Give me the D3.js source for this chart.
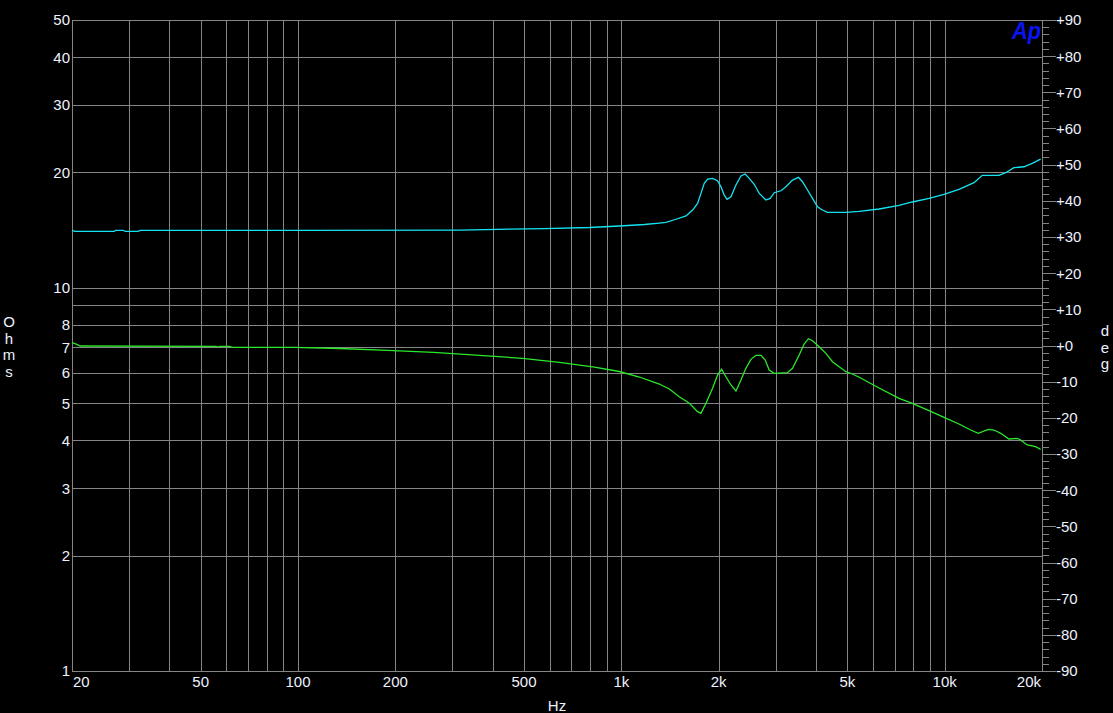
<!DOCTYPE html>
<html><head><meta charset="utf-8">
<script src="https://cdn.jsdelivr.net/npm/d3@7"></script>
<style>
html,body{margin:0;padding:0;background:#000;}
svg{display:block;}
text{font-family:"Liberation Sans Narrow","Arial Narrow","Liberation Sans",Arial,sans-serif;}
</style></head>
<body>
<svg id="chart" width="1113" height="713"></svg>
<script>
// ---- Data ----
const zFreq = [20,20.4,27,27.3,28.8,29.2,32,32.5,100,316,578,797,986,1178,1311,1375,1476,1585,
  1661,1721,1763,1805,1848,1915,1984,2033,2081,2122,2183,2262,2344,2416,2486,2576,2670,2800,2887,2970,
  3116,3229,3384,3531,3632,3765,3902,4043,4188,4341,4948,5440,6268,7228,7944,8946,9954,11072,12325,13074,
  14724,15443,16378,17588,18656,19804];
const zOhms = [14.13,14.04,14.04,14.13,14.13,14.04,14.04,14.13,14.13,14.15,14.28,14.37,14.50,14.63,14.76,14.82,15.10,15.40,
  15.96,16.61,17.64,18.74,19.23,19.31,19.03,18.35,17.46,17.02,17.29,18.55,19.58,19.82,19.31,18.63,17.64,16.95,17.12,17.71,
  17.92,18.35,19.11,19.43,18.92,18.00,17.12,16.28,15.96,15.74,15.74,15.84,16.06,16.42,16.75,17.12,17.54,18.08,18.81,19.66,
  19.66,19.97,20.58,20.70,21.13,21.68];

const pFreq = [20,20.7,21.2,55.7,56.5,57.3,61.5,62.4,97,134.6,189.3,262.6,364.2,494.8,643.8,825.7,986,1137,1311,1408,
  1511,1623,1721,1763,1827,1915,1984,2042,2106,2183,2262,2344,2428,2517,2608,2703,2786,2866,2970,3266,
  3384,3549,3676,3790,3902,4092,4291,4498,4718,4948,5186,5440,6268,7228,7944,8946,9954,11072,12038,12706,
  13643,14208,14902,15804,16765,17176,18002,19108,19804];
const pDeg = [0.77,0.33,-0.14,-0.22,-0.42,-0.22,-0.22,-0.50,-0.50,-0.83,-1.33,-1.88,-2.71,-3.54,-4.65,-5.95,-7.19,-8.71,-10.65,-12.03,
  -14.16,-15.98,-18.30,-18.75,-15.98,-11.84,-8.16,-6.58,-8.63,-10.92,-12.58,-9.54,-6.30,-3.82,-2.71,-2.71,-4.01,-6.78,-7.69,-7.52,
  -6.30,-2.63,0.41,1.88,1.33,-0.33,-2.16,-4.48,-5.86,-7.25,-7.88,-8.79,-11.75,-14.60,-15.98,-18.03,-19.85,-21.71,-23.37,-24.28,
  -23.17,-23.37,-24.28,-25.85,-25.66,-26.13,-27.51,-27.98,-28.70];

const xGrid = [20,30,40,50,60,70,80,90,100,200,300,400,500,600,700,800,900,1000,2000,3000,4000,5000,6000,7000,8000,9000,10000,20000];
const xTickVals = [20,50,100,200,500,1000,2000,5000,10000,20000];
const xTickLabels = ["20","50","100","200","500","1k","2k","5k","10k","20k"];
const yGrid = [1,2,3,4,5,6,7,8,9,10,20,30,40,50];
const yTickVals = [1,2,3,4,5,6,7,8,10,20,30,40,50];
const yTickLabels = ["1","2","3","4","5","6","7","8","10","20","30","40","50"];
const phaseMajor = d3.range(-90, 91, 10);
const phaseMinor = d3.range(-90, 91, 2);
const phaseLabel = d => (d < 0 ? "-" : "+") + Math.abs(d);

// ---- Layout ----
const L = 72, R = 1042, T = 20, B = 671;
const svg = d3.select("#chart");
svg.append("rect").attr("width",1113).attr("height",713).attr("fill","#000");

const x = d3.scaleLog().domain([20,20000]).range([L,R]);
const yZ = d3.scaleLog().domain([1,50]).range([B,T]);
const yP = d3.scaleLinear().domain([-90,90]).range([B,T]);

const gridCol = "#858585";
const txtCol = "#eef2ff";
const px = v => Math.round(v) + 0.5;

const g = svg.append("g");
// vertical grid
g.selectAll(".vg").data(xGrid).join("line")
  .attr("x1", d => px(x(d))).attr("x2", d => px(x(d)))
  .attr("y1", T).attr("y2", B)
  .attr("stroke", gridCol).attr("stroke-width", 1);
// horizontal grid
g.selectAll(".hg").data(yGrid).join("line")
  .attr("x1", L).attr("x2", R)
  .attr("y1", d => px(yZ(d))).attr("y2", d => px(yZ(d)))
  .attr("stroke", gridCol).attr("stroke-width", 1);
// left border
g.append("line").attr("x1", px(L)).attr("x2", px(L)).attr("y1", T).attr("y2", B+0.5).attr("stroke", gridCol);

// right axis ticks
g.selectAll(".mn").data(phaseMinor).join("line")
  .attr("x1", R).attr("x2", R + 7)
  .attr("y1", d => px(yP(d))).attr("y2", d => px(yP(d)))
  .attr("stroke", gridCol);
g.selectAll(".mj").data(phaseMajor).join("line")
  .attr("x1", R).attr("x2", R + 14)
  .attr("y1", d => px(yP(d))).attr("y2", d => px(yP(d)))
  .attr("stroke", gridCol);

// curves
const lineZ = d3.line().x(d => x(d[0])).y(d => yZ(d[1]));
const lineP = d3.line().x(d => x(d[0])).y(d => yP(d[1]));
svg.append("path").datum(zFreq.map((f,i)=>[f,zOhms[i]]))
  .attr("d", lineZ).attr("fill","none").attr("stroke","#14e4f2").attr("stroke-width",1.3);
svg.append("path").datum(pFreq.map((f,i)=>[f,pDeg[i]]))
  .attr("d", lineP).attr("fill","none").attr("stroke","#2ae82a").attr("stroke-width",1.3);

// labels
const fs = "15px";
svg.selectAll(".yl").data(yTickVals).join("text")
  .attr("x", 70).attr("y", d => yZ(d)).attr("dy","0.36em")
  .attr("text-anchor","end").attr("font-size",fs).attr("fill",txtCol)
  .text((d,i) => yTickLabels[i]);
svg.selectAll(".xl").data(xTickVals).join("text")
  .attr("x", (d,i) => i===0 ? L+1 : (i===xTickVals.length-1 ? R-1 : x(d)))
  .attr("y", 682).attr("dy","0.36em")
  .attr("text-anchor",(d,i) => i===0 ? "start" : (i===xTickVals.length-1 ? "end" : "middle"))
  .attr("font-size",fs).attr("fill",txtCol)
  .text((d,i) => xTickLabels[i]);
svg.selectAll(".pl").data(phaseMajor).join("text")
  .attr("x", 1056).attr("y", d => yP(d)).attr("dy","0.36em")
  .attr("text-anchor","start").attr("font-size",fs).attr("fill",txtCol)
  .text(phaseLabel);

// axis titles
svg.selectAll(".oh").data(["O","h","m","s"]).join("text")
  .attr("x", 9).attr("y", (d,i) => 322 + i*16.4).attr("dy","0.36em")
  .attr("text-anchor","middle").attr("font-size",fs).attr("fill",txtCol).text(d=>d);
svg.selectAll(".dg").data(["d","e","g"]).join("text")
  .attr("x", 1105).attr("y", (d,i) => 331 + i*16.3).attr("dy","0.36em")
  .attr("text-anchor","middle").attr("font-size",fs).attr("fill",txtCol).text(d=>d);
svg.append("text").attr("x",557).attr("y",706).attr("dy","0.36em")
  .attr("text-anchor","middle").attr("font-size",fs).attr("fill",txtCol).text("Hz");

// Ap logo
svg.append("text").attr("x",1012).attr("y",39)
  .attr("font-family","'Liberation Sans',Arial,sans-serif")
  .attr("font-size","24px").attr("font-weight","bold").attr("font-style","italic")
  .attr("fill","#0a14f0").attr("textLength",29).attr("lengthAdjust","spacingAndGlyphs")
  .text("Ap");
</script>
</body></html>
